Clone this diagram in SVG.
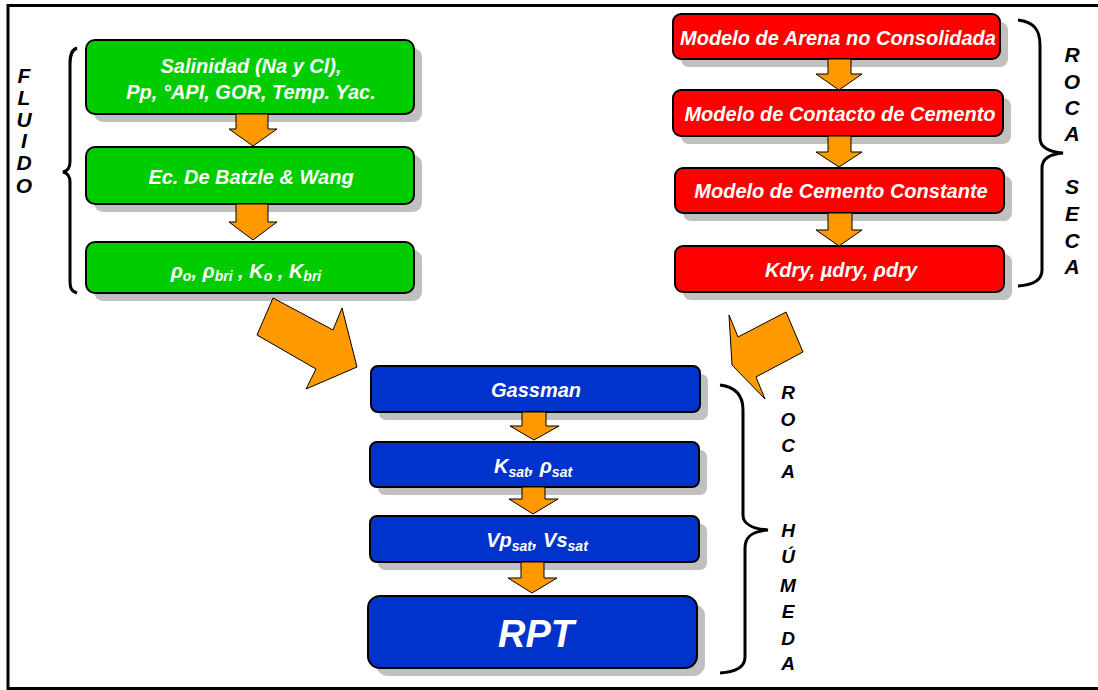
<svg xmlns="http://www.w3.org/2000/svg" width="1098" height="690" viewBox="0 0 1098 690">
<style>
.box{stroke:#000;stroke-width:2}
.g{fill:#00cc00}.r{fill:#ff0000}.b{fill:#0033cc}
.sh{fill:#c0c0c0}
.t{font-family:"Liberation Sans",Arial,sans-serif;font-weight:bold;font-style:italic;fill:#fff;font-size:20px;text-anchor:middle}
.sub{font-size:14px}
.arr{fill:#ff9900;stroke:#000;stroke-width:1}
.brace{fill:none;stroke:#000;stroke-width:3}
.lab{font-family:"Liberation Sans",Arial,sans-serif;font-weight:bold;font-style:italic;font-size:21px;fill:#000;text-anchor:middle}
.lab2{font-size:19px}
</style>
<rect x="8" y="5.5" width="1100" height="683" fill="#fff" stroke="#000" stroke-width="3"/>

<g id="fluido-label">
<path class="brace" stroke-width="2" d="M77,48 C71,50 70,56 70,64 L70,162 C70,168 67,171 63,172 C67,173 70,176 70,182 L70,280 C70,288 71,291 77,293"/>
<text class="lab" x="24" y="83">F</text>
<text class="lab" x="24" y="105">L</text>
<text class="lab" x="24" y="127">U</text>
<text class="lab" x="24" y="148">I</text>
<text class="lab" x="24" y="170">D</text>
<text class="lab" x="24" y="193">O</text>
</g>

<g id="rocaseca-label">
<path class="brace" d="M1018,20 C1034,22 1040,30 1040,45 L1040,138 C1040,148 1050,152 1063,153 C1050,154 1042,158 1042,168 L1042,270 C1042,280 1034,285 1018,286"/>
<text class="lab" x="1072" y="62">R</text>
<text class="lab" x="1072" y="89">O</text>
<text class="lab" x="1072" y="115">C</text>
<text class="lab" x="1072" y="141">A</text>
<text class="lab" x="1072" y="194">S</text>
<text class="lab" x="1072" y="221">E</text>
<text class="lab" x="1072" y="248">C</text>
<text class="lab" x="1072" y="274">A</text>
</g>

<g id="rocahumeda-label">
<path class="brace" d="M720,385 C736,387 743,396 743,410 L743,515 C743,524 753,529 768,530 C753,531 745,536 745,548 L745,657 C745,667 736,672 720,673"/>
<text class="lab lab2" x="788" y="399">R</text>
<text class="lab lab2" x="788" y="426">O</text>
<text class="lab lab2" x="788" y="452">C</text>
<text class="lab lab2" x="788" y="478">A</text>
<text class="lab lab2" x="788" y="537">H</text>
<text class="lab lab2" x="788" y="563">Ú</text>
<text class="lab lab2" x="788" y="592">M</text>
<text class="lab lab2" x="788" y="618">E</text>
<text class="lab lab2" x="788" y="645">D</text>
<text class="lab lab2" x="788" y="670">A</text>
</g>

<g id="salinidad">
<rect class="sh" x="94" y="48" width="328" height="74" rx="9"/>
<rect class="box g" x="86" y="40" width="328" height="74" rx="9"/>
<text class="t" x="251" y="73">Salinidad (Na y Cl),</text>
<text class="t" x="251" y="99">Pp, °API, GOR, Temp. Yac.</text>
</g>
<g id="batzle">
<rect class="sh" x="94" y="155" width="328" height="57" rx="9"/>
<rect class="box g" x="86" y="147" width="328" height="57" rx="9"/>
<text class="t" x="251" y="184">Ec. De Batzle &amp; Wang</text>
</g>
<g id="fluidprops">
<rect class="sh" x="94" y="250" width="328" height="51" rx="9"/>
<rect class="box g" x="86" y="242" width="328" height="51" rx="9"/>
<text class="t" x="246" y="278">ρ<tspan class="sub" dy="3">o</tspan><tspan dy="-3">, ρ</tspan><tspan class="sub" dy="3">bri</tspan><tspan dy="-3"> , K</tspan><tspan class="sub" dy="3">o</tspan><tspan dy="-3"> , K</tspan><tspan class="sub" dy="3">bri</tspan></text>
</g>

<g id="arena">
<rect class="sh" x="681" y="22" width="327" height="45" rx="8"/>
<rect class="box r" x="673" y="14" width="327" height="45" rx="8"/>
<text class="t" x="838" y="45">Modelo de Arena no Consolidada</text>
</g>
<g id="contacto">
<rect class="sh" x="681" y="98" width="330" height="46" rx="8"/>
<rect class="box r" x="673" y="90" width="330" height="46" rx="8"/>
<text class="t" x="840" y="121">Modelo de Contacto de Cemento</text>
</g>
<g id="constante">
<rect class="sh" x="683" y="176" width="329" height="45" rx="8"/>
<rect class="box r" x="675" y="168" width="329" height="45" rx="8"/>
<text class="t" x="841" y="198">Modelo de Cemento Constante</text>
</g>
<g id="kdry">
<rect class="sh" x="683" y="254" width="329" height="46" rx="8"/>
<rect class="box r" x="675" y="246" width="329" height="46" rx="8"/>
<text class="t" x="841" y="277">Kdry, µdry, ρdry</text>
</g>

<g id="gassman">
<rect class="sh" x="379" y="374" width="329" height="46" rx="7"/>
<rect class="box b" x="371" y="366" width="329" height="46" rx="7"/>
<text class="t" x="536" y="397">Gassman</text>
</g>
<g id="ksat">
<rect class="sh" x="378" y="450" width="329" height="45" rx="7"/>
<rect class="box b" x="370" y="442" width="329" height="45" rx="7"/>
<text class="t" x="533" y="473">K<tspan class="sub" dy="4">sat</tspan><tspan dy="-4">, ρ</tspan><tspan class="sub" dy="4">sat</tspan></text>
</g>
<g id="vpsat">
<rect class="sh" x="378" y="524" width="329" height="46" rx="7"/>
<rect class="box b" x="370" y="516" width="329" height="46" rx="7"/>
<text class="t" x="537" y="547">Vp<tspan class="sub" dy="4">sat</tspan><tspan dy="-4">, Vs</tspan><tspan class="sub" dy="4">sat</tspan></text>
</g>
<g id="rpt">
<rect class="sh" x="376" y="604" width="329" height="72" rx="12"/>
<rect class="box b" x="368" y="596" width="329" height="72" rx="12"/>
<text class="t" x="536" y="647" style="font-size:38px">RPT</text>
</g>

<g id="connectors">
<polygon class="arr" points="236,114 268,114 268,129 277,129 253,146 229,129 236,129"/>
<polygon class="arr" points="236,204 268,204 268,222 277,222 253,240 229,222 236,222"/>
<polygon class="arr" points="828,59 851,59 851,74 862,74 839,90 816,74 828,74"/>
<polygon class="arr" points="828,136 851,136 851,152 862,152 839,167 816,152 828,152"/>
<polygon class="arr" points="828,213 852,213 852,230 862,230 839,246 816,230 828,230"/>
<polygon class="arr" points="522,412 546,412 546,426 559,426 534,440 510,426 522,426"/>
<polygon class="arr" points="522,487 545,487 545,499 558,499 533,514 509,499 522,499"/>
<polygon class="arr" points="521,562 544,562 544,578 557,578 532,593 508,578 521,578"/>
<polygon class="arr" points="273,298 333,330 342,308 357,367 306,389 316,369 257,335"/>
<polygon class="arr" points="786,312 738,337 729,315 732,365 765,399 756,377 803,352"/>
</g>
</svg>
